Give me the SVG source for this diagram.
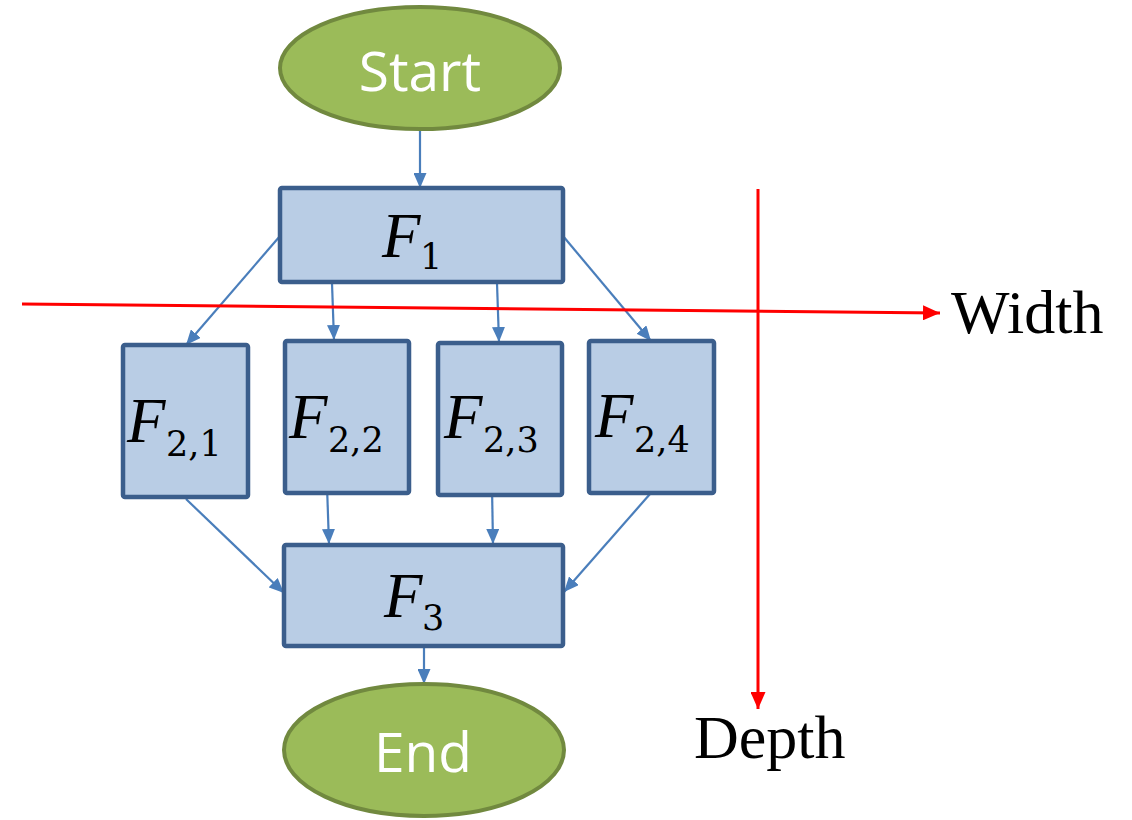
<svg xmlns="http://www.w3.org/2000/svg" width="1132" height="820" viewBox="0 0 1132 820">
<style>
.term{fill:#9bbb59;stroke:#71893f;stroke-width:4}
.termtxt{font-family:"Open Sans","DejaVu Sans",sans-serif;font-size:55px;fill:#ffffff;text-anchor:middle}
.box{fill:#b9cde5;stroke:#3b5e8c;stroke-width:4.5}
.math{font-family:"Liberation Serif","Times New Roman",serif;fill:#000}
.mF{font-style:italic;font-size:63px}
.sub{font-family:"DejaVu Serif","Liberation Serif",serif;font-size:35px}
.conn{stroke:#4a7ebb;stroke-width:2.2;fill:none;marker-end:url(#blueArrow)}
.axis{stroke:#ff0000;stroke-width:3;fill:none}
.axlabel{font-family:"Liberation Serif","Times New Roman",serif;font-size:62px;fill:#000}
</style>
<defs>
<marker id="blueArrow" markerUnits="userSpaceOnUse" markerWidth="15" markerHeight="13" refX="15" refY="6.5" orient="auto">
<path d="M0,0 L15,6.5 L0,13 z" fill="#4a7ebb"/>
</marker>
<marker id="redArrow" markerUnits="userSpaceOnUse" markerWidth="17" markerHeight="15" refX="17" refY="7.5" orient="auto">
<path d="M0,0 L17,7.5 L0,15 z" fill="#ff0000"/>
</marker>
</defs>
<rect width="1132" height="820" fill="#ffffff"/>

<g id="connectors">
<line class="conn" x1="420" y1="130" x2="420" y2="188"/>
<line class="conn" x1="280" y1="236" x2="186" y2="345"/>
<line class="conn" x1="332" y1="283" x2="334" y2="340"/>
<line class="conn" x1="497" y1="283" x2="499" y2="342"/>
<line class="conn" x1="563" y1="236" x2="651" y2="341"/>
<line class="conn" x1="186" y1="499" x2="284" y2="593"/>
<line class="conn" x1="327" y1="486" x2="329" y2="544"/>
<line class="conn" x1="492" y1="487" x2="493" y2="544"/>
<line class="conn" x1="650" y1="494" x2="564" y2="592"/>
<line class="conn" x1="424" y1="647" x2="424" y2="684"/>
</g>

<g id="start">
<ellipse class="term" cx="420" cy="68" rx="140" ry="61"/>
<text class="termtxt" x="420" y="91">Start</text>
</g>

<g id="f1">
<rect class="box" x="280" y="188" width="283" height="94" rx="2"/>
<text class="math" x="382" y="257"><tspan class="mF">F</tspan></text>
<text class="math" x="420" y="269"><tspan class="sub">1</tspan></text>
</g>

<g id="f21">
<rect class="box" x="123" y="345" width="125" height="152" rx="2"/>
<text class="math" x="127" y="442"><tspan class="mF">F</tspan></text>
<text class="math" x="166" y="456"><tspan class="sub">2,1</tspan></text>
</g>
<g id="f22">
<rect class="box" x="285" y="341" width="124" height="152" rx="2"/>
<text class="math" x="289" y="438"><tspan class="mF">F</tspan></text>
<text class="math" x="328" y="452"><tspan class="sub">2,2</tspan></text>
</g>
<g id="f23">
<rect class="box" x="438" y="343" width="124" height="152" rx="2"/>
<text class="math" x="444" y="438"><tspan class="mF">F</tspan></text>
<text class="math" x="483" y="452"><tspan class="sub">2,3</tspan></text>
</g>
<g id="f24">
<rect class="box" x="589" y="341" width="125" height="152" rx="2"/>
<text class="math" x="595" y="437"><tspan class="mF">F</tspan></text>
<text class="math" x="634" y="452"><tspan class="sub">2,4</tspan></text>
</g>

<g id="f3">
<rect class="box" x="284" y="545" width="279" height="101" rx="2"/>
<text class="math" x="384" y="617"><tspan class="mF">F</tspan></text>
<text class="math" x="422" y="630"><tspan class="sub">3</tspan></text>
</g>

<g id="end">
<ellipse class="term" cx="424" cy="750" rx="140" ry="66"/>
<text class="termtxt" x="423" y="772">End</text>
</g>

<g id="axes">
<line class="axis" x1="22" y1="304" x2="940" y2="313" marker-end="url(#redArrow)"/>
<line class="axis" x1="758" y1="189" x2="758" y2="709" marker-end="url(#redArrow)"/>
<text class="axlabel" x="951" y="333">Width</text>
<text class="axlabel" x="694" y="758">Depth</text>
</g>
</svg>
